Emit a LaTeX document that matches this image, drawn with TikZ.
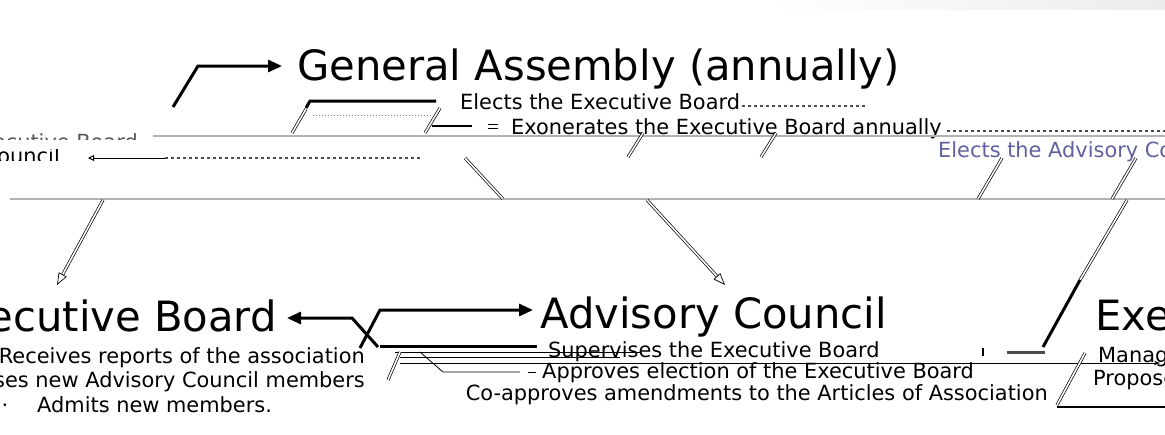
\documentclass[tikz,border=0pt]{standalone}
\usepackage{fontspec}
\setmainfont{DejaVu Sans}
\usetikzlibrary{arrows.meta}
\begin{document}
\begin{tikzpicture}[x=1pt,y=-1pt,
  big/.style={font=\fontsize{41.7}{41.7}\selectfont, inner sep=0pt},
  small/.style={font=\fontsize{20.9}{20.9}\selectfont, inner sep=0pt},
  thickline/.style={line width=3pt},
  thickarrow/.style={line width=3pt, -{Triangle[length=14pt,width=12pt]}},
  rulegray/.style={line width=1.5pt, gray!60},
  hollow/.style={draw=black, double=white, double distance=1.6pt, line width=0.7pt},
  hollowarrow/.style={hollow, -{Triangle[open,length=12pt,width=9pt]}},
  garble/.style={dashed, gray!60!black, line width=1.5pt}]
\useasboundingbox (0,0) rectangle (1165,434);
\clip (0,0) rectangle (1165,434);
\shade[left color=white, right color=gray!15] (770,0) rectangle (1165,9);

% main nodes
\node[big, anchor=base west] (ga) at (297,80) {General Assembly (annually)};
\node[big, anchor=base east] (ebl) at (277,331) {Executive Board};
\node[big, anchor=base west] (ac) at (540,328) {Advisory Council};
\node[big, anchor=base west] (exr) at (1095,330) {Executive Management};

% labels
\node[small, anchor=base west] (t1) at (460,109) {Elects the Executive Board};
\node[small, anchor=base west] (t2) at (511,134) {Exonerates the Executive Board annually};
\node[small, anchor=base west, text=blue!25!gray] (t3) at (938,157) {Elects the Advisory Council};
\node[small, anchor=base west] (t4) at (548,357) {Supervises the Executive Board};
\node[small, anchor=base west] (t5) at (542,378) {Approves election of the Executive Board};
\node[small, anchor=base east] (t6) at (1048,400) {Co-approves amendments to the Articles of Association};
\node[small, anchor=base east] (l1) at (365,363) {Receives reports of the association};
\node[small, anchor=base east] (l2) at (365,387) {Proposes new Advisory Council members};
\node[small, anchor=base west] (l3) at (37,412) {Admits new members.};
\node[small, anchor=base] (dot) at (5,412) {·};
\node[small, anchor=base west] (r1) at (1098,362) {Manages};
\node[small, anchor=base west] (r2) at (1093,385) {Proposes};

\begin{scope}
\clip (0,132) rectangle (150,139);
\node[small, anchor=base east, text=gray!70!black] (c1) at (138,149) {Elects the Executive Board};
\end{scope}
\begin{scope}
\clip (0,149) rectangle (70,160);
\node[small, anchor=base east] (c2) at (60,163) {Elects the Advisory Council};
\end{scope}

% coordinates
\coordinate (gaIn) at (282,66);
\coordinate (eblIn) at (287,318);
\coordinate (acIn) at (533,310);

% top connectors
\draw[thickarrow] (173,107) -- (198,66) -- (gaIn);
\draw[hollow] (292,133) -- (306,109);
\draw[thickline] (306,108) -- (310,101) -- (436,101);
\draw[dotted, gray, line width=1pt] (313,115) -- (432,115);
\draw[garble, line width=2pt] (742,106) -- (865,106);
\draw[hollow] (425,133) -- (440,108);
\draw[line width=1.5pt] (432,126) -- (472,126);
\draw[line width=1pt] (488,124) -- (498,124) (488,128) -- (498,128);
\draw[garble] (947,131) -- (1165,131);
\draw[rulegray] (153,136) -- (1165,136);
\draw[line width=1pt, {Triangle[open,length=6pt,width=6pt]}-] (88,158) -- (165,158);
\draw[garble] (165,158) -- (420,158);
\draw[rulegray] (10,199) -- (1165,199);

% slanted
\draw[hollow] (628,157) -- (643,133);
\draw[hollow] (761,157) -- (776,133);
\draw[hollow] (978,199) -- (1002,158);
\draw[hollow] (1112,199) -- (1136,158);
\draw[hollow] (465,158) -- (503,199);
\draw[hollowarrow] (103,200) -- (57,285);
\draw[hollowarrow] (647,200) -- (725,285);
\draw[hollow] (1127,200) -- (1080,280);
\draw[thickline] (1080,280) -- (1043,347);

% bottom connectors
\draw[thickarrow] (378,347) -- (352,318) -- (eblIn);
\draw[thickarrow] (360,348) -- (380,310) -- (acIn);
\draw[thickline] (380,346) -- (537,346);
\draw[line width=1pt] (395,352) -- (640,352);
\draw[line width=0.8pt] (400,357) -- (620,357);
\draw[line width=1pt, -{Stealth[length=6pt]}] (400,363) -- (1160,363);
\draw[line width=0.8pt] (420,352) -- (443,372) -- (520,372);
\draw[line width=1pt] (528,372) -- (536,372);
\draw[hollow] (388,380) -- (400,352);
\draw[line width=1.5pt] (983,348) -- (983,356);
\draw[line width=3pt, gray!60!black] (1007,352) -- (1045,352);
\draw[hollow] (1057,405) -- (1085,353);
\draw[line width=2pt] (1057,407) -- (1165,407);
\end{tikzpicture}
\end{document}
